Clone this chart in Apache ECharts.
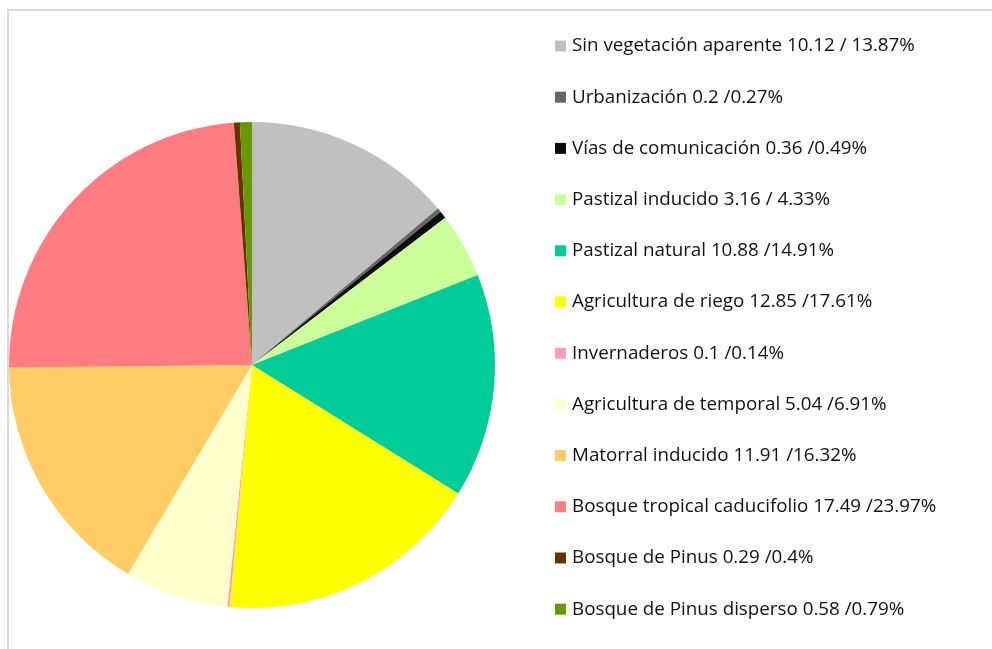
<!DOCTYPE html>
<html>
<head>
<meta charset="utf-8">
<script src="https://cdn.jsdelivr.net/npm/echarts@6/dist/echarts.min.js"></script>
<style>
  html, body { margin: 0; padding: 0; background: #fff; }
  #chart { width: 992px; height: 649px; }
</style>
</head>
<body>
<div id="chart"></div>
<script>
// categorias (texto de la leyenda tal como aparece)
var categories = [
  'Sin vegetación aparente 10.12 / 13.87%',
  'Urbanización 0.2 /0.27%',
  'Vías de comunicación 0.36 /0.49%',
  'Pastizal inducido 3.16 / 4.33%',
  'Pastizal natural 10.88 /14.91%',
  'Agricultura de riego 12.85 /17.61%',
  'Invernaderos 0.1 /0.14%',
  'Agricultura de temporal 5.04 /6.91%',
  'Matorral inducido 11.91 /16.32%',
  'Bosque tropical caducifolio 17.49 /23.97%',
  'Bosque de Pinus 0.29 /0.4%',
  'Bosque de Pinus disperso 0.58 /0.79%'
];
var values = [10.12, 0.2, 0.36, 3.16, 10.88, 12.85, 0.1, 5.04, 11.91, 17.49, 0.29, 0.58];
var colors = ['#c0c0c0', '#666666', '#0c0c0c', '#ccff99', '#00cc99', '#ffff00',
  '#ff99cc', '#ffffcc', '#ffcc66', '#ff7c80', '#663300', '#669900'];

var myChart = echarts.init(document.getElementById('chart'));

var option = {
  animation: false,
  color: colors,
  graphic: [{
    type: 'rect',
    shape: { x: 8, y: 10, width: 1100, height: 800 },
    style: { fill: 'none', stroke: '#d9d9d9', lineWidth: 2 },
    silent: true
  }],
  legend: {
    orient: 'vertical',
    left: 550,
    top: 31.5,
    itemWidth: 11,
    itemHeight: 11,
    itemGap: 32.2,
    icon: 'rect',
    textStyle: {
      fontFamily: 'Open Sans',
      fontSize: 18.8,
      lineHeight: 19,
      color: '#111',
      padding: [0, 0, 0, 1]
    },
    data: categories
  },
  series: [{
    type: 'pie',
    center: [252, 365],
    radius: 243,
    startAngle: 90,
    clockwise: true,
    label: { show: false },
    labelLine: { show: false },
    emphasis: { disabled: true },
    data: categories.map(function (c, i) {
      return { name: c, value: values[i] };
    })
  }]
};

myChart.setOption(option);
</script>
</body>
</html>
